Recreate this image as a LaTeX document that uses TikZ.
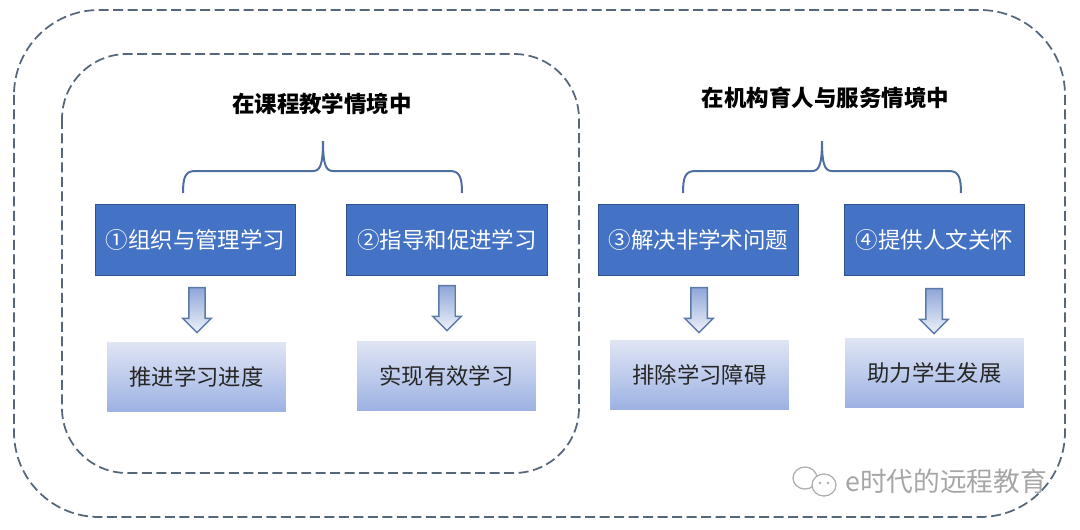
\documentclass[tikz,border=0pt]{standalone}
\usepackage{fontspec}
\setmainfont{Noto Sans CJK SC}
\usepackage{xcolor}
\usepackage{tikz}
\usetikzlibrary{shapes,shapes.arrows,calc}
\definecolor{cBoxFill}{HTML}{4472C4}
\definecolor{cBoxLine}{HTML}{2F528F}
\definecolor{cLowTop}{HTML}{E0E5F4}
\definecolor{cLowBot}{HTML}{9DB2E3}
\definecolor{cArrowTop}{HTML}{8FA6D8}
\definecolor{cArrowBot}{HTML}{EEF1F9}
\definecolor{cArrowLine}{HTML}{5B7AA8}
\definecolor{cBrace}{HTML}{4F6F9F}
\definecolor{cDash}{HTML}{56677A}
\tikzstyle{tsDashed} = [
    draw=cDash,
    line width=0.035cm,
    dash pattern=on 0.2cm off 0.09cm
]
\tikzstyle{tsBrace} = [
    draw=cBrace,
    line width=0.04cm
]
\tikzstyle{tsTitle} = [
    text=black,
    font=\fontsize{12.8}{15}\selectfont\bfseries,
    inner sep=0pt
]
\tikzstyle{tsBox} = [
    rectangle,
    draw=cBoxLine,
    fill=cBoxFill,
    text=white,
    line width=0.02cm,
    minimum height=1.42cm,
    inner sep=0pt,
    font=\fontsize{12.8}{15}\selectfont
]
\tikzstyle{tsLower} = [
    rectangle,
    top color=cLowTop,
    bottom color=cLowBot,
    text=black!85,
    minimum width=3.58cm,
    minimum height=1.38cm,
    inner sep=0pt,
    font=\fontsize{12.7}{15}\selectfont
]
\tikzstyle{tsArrow} = [
    single arrow,
    shape border rotate=270,
    draw=cArrowLine,
    line width=0.03cm,
    top color=cArrowTop,
    bottom color=cArrowBot,
    minimum height=0.9cm,
    single arrow head extend=0.12cm,
    inner sep=0.15cm
]
\tikzstyle{tsMark} = [
    text=black!35,
    font=\fontsize{15.2}{17}\selectfont,
    inner sep=0pt
]

\begin{document}
\begin{tikzpicture}[x=0.02cm, y=-0.02cm]

    \useasboundingbox (0,0) rectangle (1080,529);

    % dashed frames
    \draw[tsDashed, rounded corners=1.7cm] (14,10) rectangle (1065,517);
    \draw[tsDashed, rounded corners=1.3cm] (62,54) rectangle (579,473);

    % titles
    \node[tsTitle] (titleA) at (322,104) {在课程教学情境中};
    \node[tsTitle] (titleB) at (825.5,98) {在机构育人与服务情境中};

    % upper boxes
    \node[tsBox, minimum width=4.02cm] (org) at (195.5,239.5) {①组织与管理学习};
    \node[tsBox, minimum width=4.04cm] (guide) at (447,239.5) {②指导和促进学习};
    \node[tsBox, minimum width=4.02cm] (solve) at (698.5,239.5) {③解决非学术问题};
    \node[tsBox, minimum width=3.62cm] (care) at (934.5,239.5) {④提供人文关怀};

    % lower boxes
    \node[tsLower] (pace) at (196.5,376.5) {推进学习进度};
    \node[tsLower] (effect) at (446.5,375.5) {实现有效学习};
    \node[tsLower] (clear) at (699.5,374.5) {排除学习障碍};
    \node[tsLower] (grow) at (934.5,372.5) {助力学生发展};

    % block arrows
    \node[tsArrow] (arrA) at (197,306) {};
    \node[tsArrow] (arrB) at (447,304) {};
    \node[tsArrow] (arrC) at (699,306) {};
    \node[tsArrow] (arrD) at (934,307) {};

    % braces
    \coordinate (braceAl) at (183,193);
    \coordinate (braceAr) at (462,193);
    \coordinate (braceAt) at (323,141);
    \coordinate (braceBl) at (683,193);
    \coordinate (braceBr) at (961,193);
    \coordinate (braceBt) at (822,141);

    \draw[tsBrace] (braceAl) .. controls ++(0,-15) and ++(-10,0) .. ++(12,-22) -- ++(118,0)
        .. controls ++(7,0) and ++(0,24) .. (braceAt)
        .. controls ++(0,24) and ++(-7,0) .. ++(10,30) -- ++(117,0)
        .. controls ++(10,0) and ++(0,-15) .. (braceAr);
    \draw[tsBrace] (braceBl) .. controls ++(0,-15) and ++(-10,0) .. ++(12,-22) -- ++(117,0)
        .. controls ++(7,0) and ++(0,24) .. (braceBt)
        .. controls ++(0,24) and ++(-7,0) .. ++(10,30) -- ++(117,0)
        .. controls ++(10,0) and ++(0,-15) .. (braceBr);

    % watermark
    \draw[black!32, line width=0.025cm] (805,478) circle[x radius=12, y radius=11];
    \draw[black!32, line width=0.025cm, fill=white] (824,485) circle[x radius=12, y radius=11];
    \fill[black!32] (820,483) circle[radius=1.3] (828,483) circle[radius=1.3];
    \node[tsMark, anchor=west] (mark) at (845,481) {e时代的远程教育};

\end{tikzpicture}
\end{document}
